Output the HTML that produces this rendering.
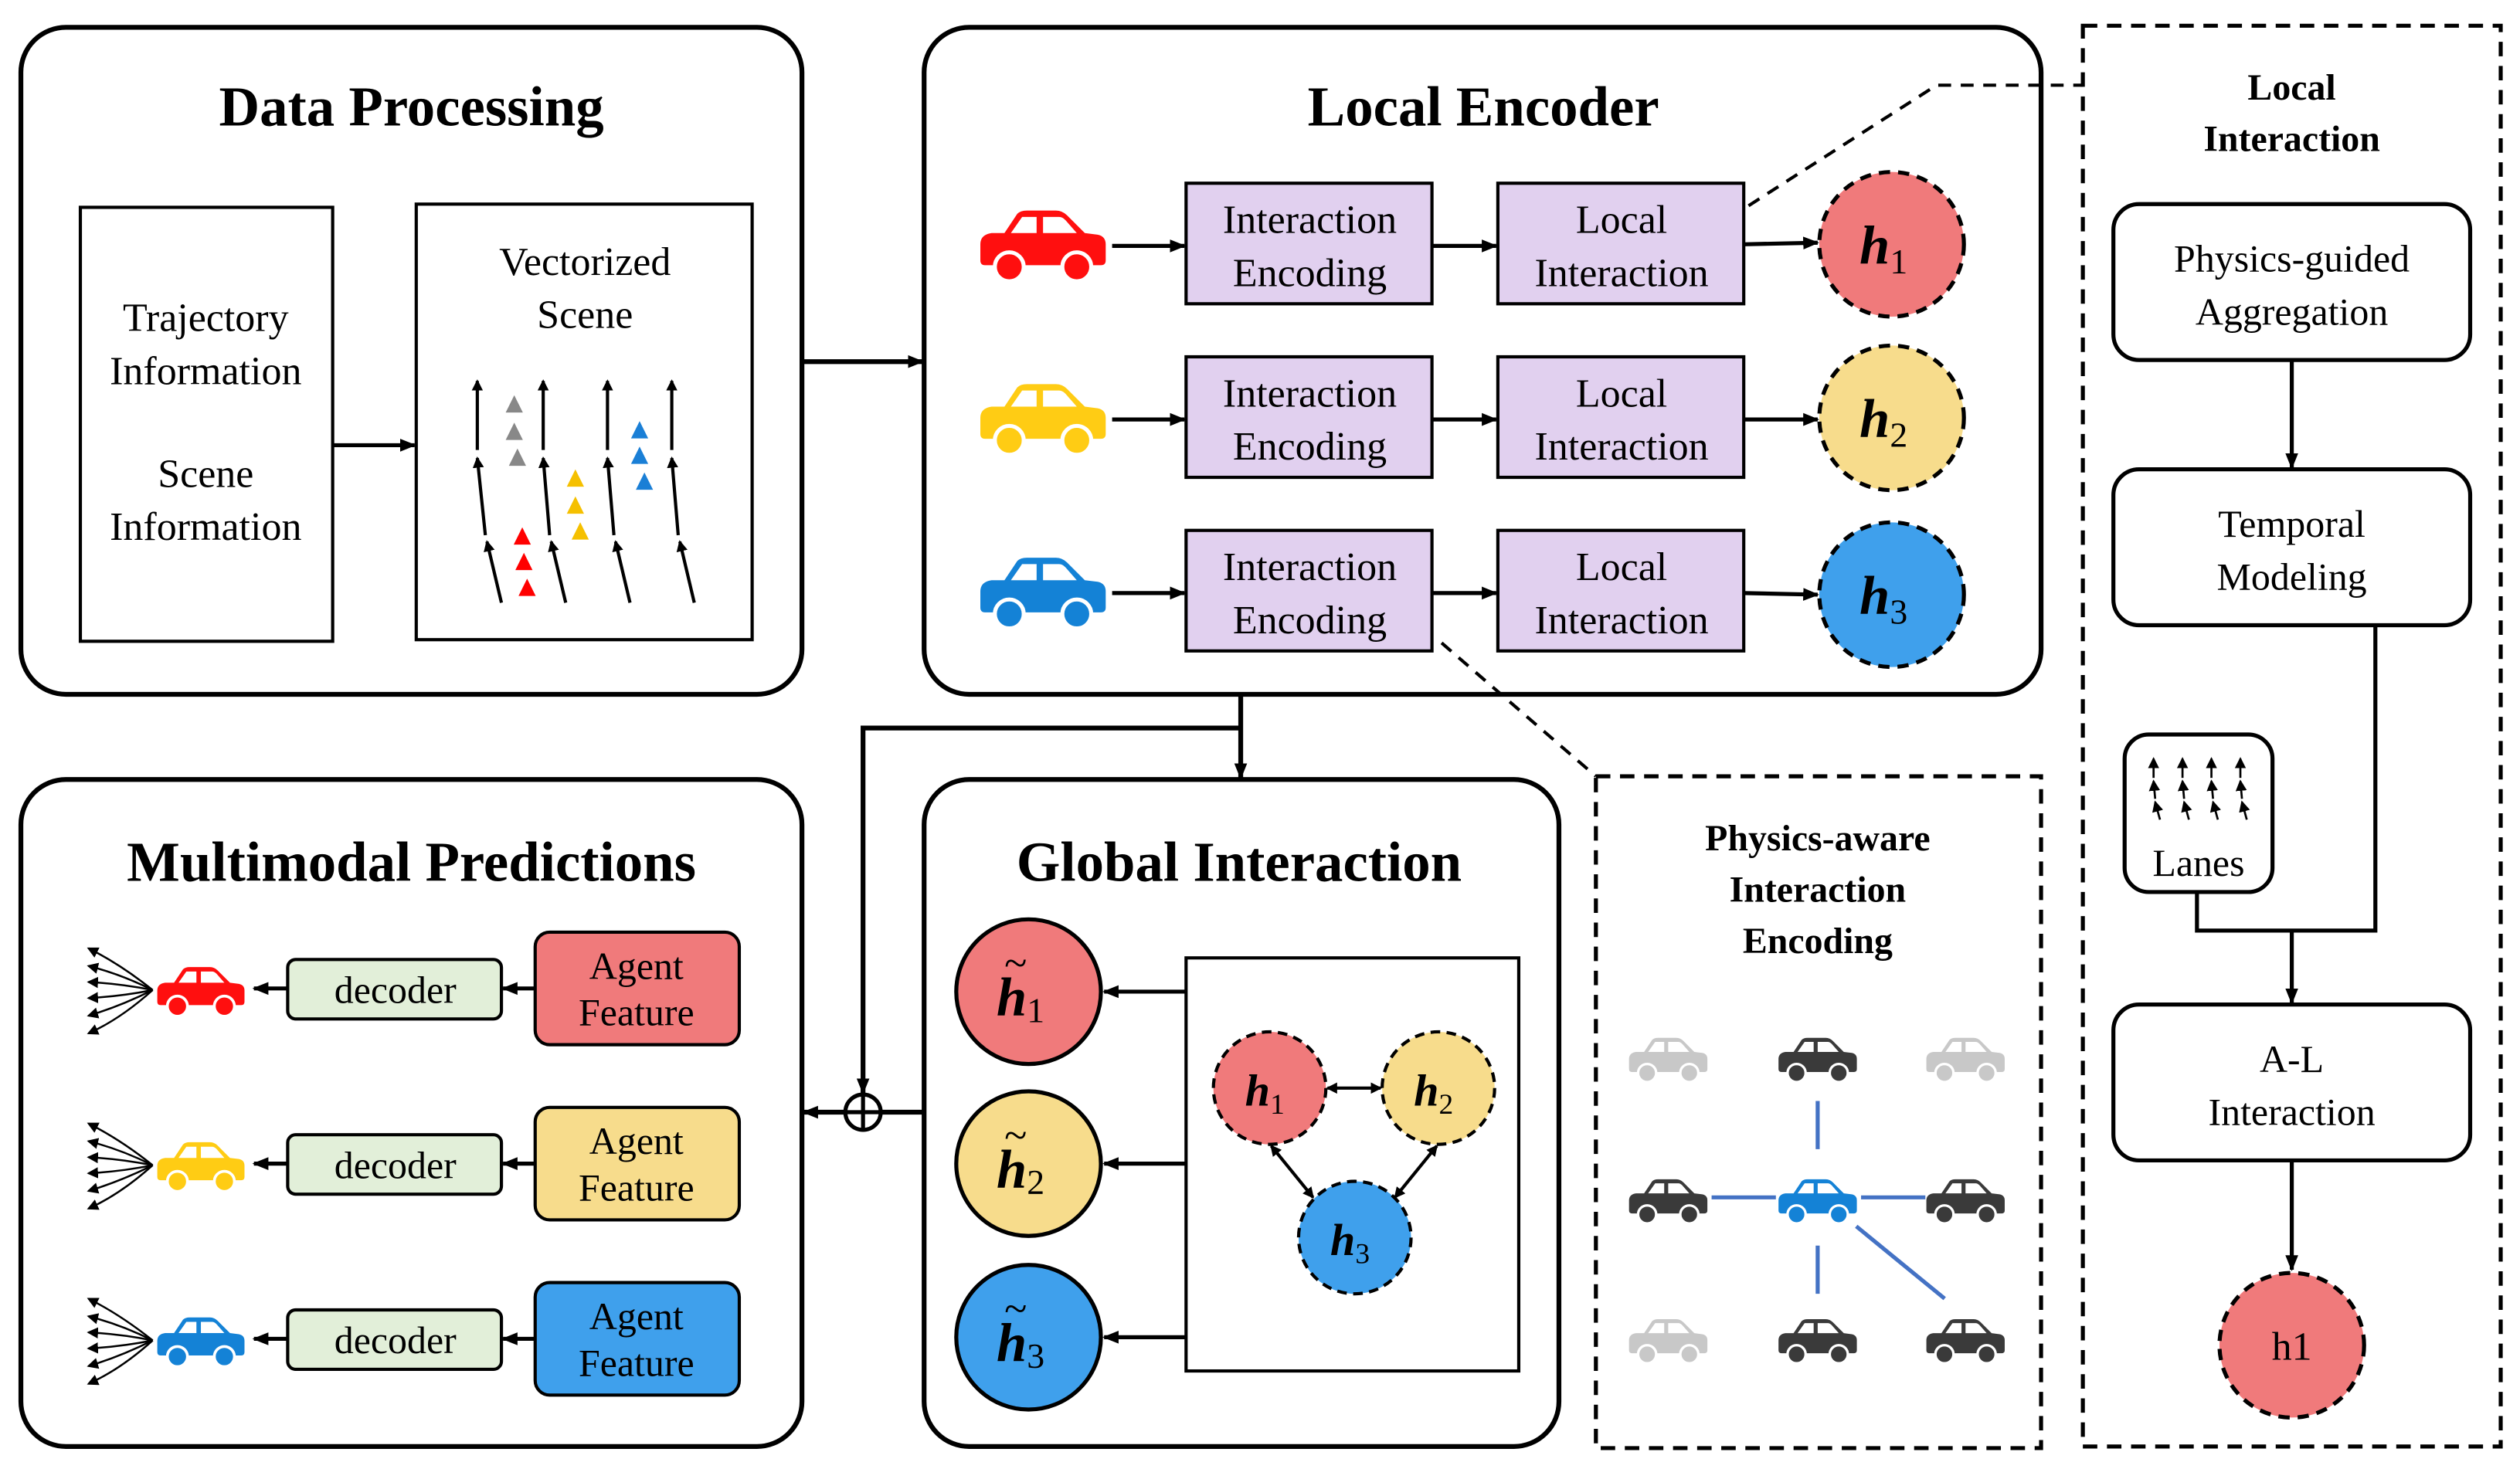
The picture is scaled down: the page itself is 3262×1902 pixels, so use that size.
<!DOCTYPE html>
<html><head><meta charset="utf-8"><style>
html,body{margin:0;padding:0;background:#fff;}
svg{display:block;font-family:"Liberation Serif","Times New Roman","DejaVu Serif",serif;}
svg text{font-family:"Liberation Serif","Times New Roman","DejaVu Serif",serif;}
svg text.g{font-family:"DejaVu Sans",sans-serif;}
</style></head><body>
<svg width="3262" height="1902" viewBox="0 0 1568 914" preserveAspectRatio="none" xmlns="http://www.w3.org/2000/svg" font-family="Liberation Serif, serif">
<defs>
<marker id="ah" markerWidth="10" markerHeight="10" refX="9" refY="5" orient="auto" markerUnits="userSpaceOnUse"><path d="M0,1 L10,5 L0,9 Z" fill="#000"/></marker>
<marker id="ahs" markerWidth="7" markerHeight="7" refX="6" refY="3.5" orient="auto-start-reverse" markerUnits="userSpaceOnUse"><path d="M0,0 L7,3.5 L0,7 Z" fill="#000"/></marker>
<symbol id="car" viewBox="0 0 80 46">
<path d="M1,22 Q1,16 8,15 L16,15 L24,3 Q26,1 30,1 L48,1 Q52,1 55,4 L66,15 L74,16 Q79,17 79,22 L79,32 Q79,35 76,35 L4,35 Q1,35 1,32 Z" fill="currentColor"/>
<path d="M20,15 L27,5 L36,5 L36,15 Z M40,5 L50,5 Q52,5 54,7 L61,15 L40,15 Z" fill="#fff"/>
<circle cx="19" cy="36" r="9" fill="currentColor" stroke="#fff" stroke-width="2.5"/>
<circle cx="61" cy="36" r="9" fill="currentColor" stroke="#fff" stroke-width="2.5"/>
</symbol>
</defs>

<!-- Data Processing -->
<rect x="13" y="17" width="486" height="415" rx="28" fill="none" stroke="#000" stroke-width="3"/>
<text x="256" y="78" font-size="35" font-weight="bold" text-anchor="middle">Data Processing</text>
<rect x="50" y="129" width="157" height="270" fill="none" stroke="#000" stroke-width="2"/>
<g font-size="25" text-anchor="middle">
<text x="128" y="206">Trajectory</text><text x="128" y="239">Information</text>
<text x="128" y="303">Scene</text><text x="128" y="336">Information</text>
</g>
<line x1="207" y1="277" x2="258" y2="277" stroke="#000" stroke-width="2.5" marker-end="url(#ah)"/>
<rect x="259" y="127" width="209" height="271" fill="none" stroke="#000" stroke-width="2"/>
<g font-size="25" text-anchor="middle"><text x="364" y="171">Vectorized</text><text x="364" y="204">Scene</text></g>
<g stroke="#000" stroke-width="2" fill="none" marker-end="url(#ahs)">
<line x1="312" y1="375" x2="303" y2="337"/><line x1="302" y1="333" x2="297" y2="285"/><line x1="297" y1="280" x2="297" y2="237"/>
<line x1="352" y1="375" x2="343" y2="337"/><line x1="342" y1="333" x2="338" y2="285"/><line x1="338" y1="280" x2="338" y2="237"/>
<line x1="392" y1="375" x2="383" y2="337"/><line x1="382" y1="333" x2="378" y2="285"/><line x1="378" y1="280" x2="378" y2="237"/>
<line x1="432" y1="375" x2="423" y2="337"/><line x1="422" y1="333" x2="418" y2="285"/><line x1="418" y1="280" x2="418" y2="237"/>
</g>
<g font-size="14" text-anchor="middle">
<text class="g" x="320" y="255" fill="#888">▲</text><text class="g" x="320" y="272" fill="#888">▲</text><text class="g" x="322" y="288" fill="#888">▲</text>
<text class="g" x="325" y="337" fill="#f00">▲</text><text class="g" x="326" y="353" fill="#f00">▲</text><text class="g" x="328" y="369" fill="#f00">▲</text>
<text class="g" x="358" y="301" fill="#f5c000">▲</text><text class="g" x="358" y="318" fill="#f5c000">▲</text><text class="g" x="361" y="334" fill="#f5c000">▲</text>
<text class="g" x="398" y="271" fill="#1a7fd6">▲</text><text class="g" x="398" y="287" fill="#1a7fd6">▲</text><text class="g" x="401" y="303" fill="#1a7fd6">▲</text>
</g>
<line x1="499" y1="225" x2="574" y2="225" stroke="#000" stroke-width="3" marker-end="url(#ah)"/>

<!-- Local Encoder -->
<rect x="575" y="17" width="695" height="415" rx="28" fill="none" stroke="#000" stroke-width="3"/>
<text x="923" y="78" font-size="35" font-weight="bold" text-anchor="middle">Local Encoder</text>
<use href="#car" x="609" y="130" width="80" height="46" style="color:#ff0f0f"/>
<use href="#car" x="609" y="238" width="80" height="46" style="color:#ffcc14"/>
<use href="#car" x="609" y="346" width="80" height="46" style="color:#1482d6"/>
<g stroke="#000" stroke-width="2.5" marker-end="url(#ah)">
<line x1="692" y1="153" x2="737" y2="153"/><line x1="692" y1="261" x2="737" y2="261"/><line x1="692" y1="369" x2="737" y2="369"/>
<line x1="891" y1="153" x2="931" y2="153"/><line x1="891" y1="261" x2="931" y2="261"/><line x1="891" y1="369" x2="931" y2="369"/>
<line x1="1085" y1="152" x2="1131" y2="151"/><line x1="1085" y1="261" x2="1131" y2="261"/><line x1="1085" y1="369" x2="1131" y2="370"/>
</g>
<g fill="#e1d0ef" stroke="#000" stroke-width="2">
<rect x="738" y="114" width="153" height="75"/><rect x="738" y="222" width="153" height="75"/><rect x="738" y="330" width="153" height="75"/>
<rect x="932" y="114" width="153" height="75"/><rect x="932" y="222" width="153" height="75"/><rect x="932" y="330" width="153" height="75"/>
</g>
<g font-size="25" text-anchor="middle">
<text x="815" y="145">Interaction</text><text x="815" y="178">Encoding</text>
<text x="815" y="253">Interaction</text><text x="815" y="286">Encoding</text>
<text x="815" y="361">Interaction</text><text x="815" y="394">Encoding</text>
<text x="1009" y="145">Local</text><text x="1009" y="178">Interaction</text>
<text x="1009" y="253">Local</text><text x="1009" y="286">Interaction</text>
<text x="1009" y="361">Local</text><text x="1009" y="394">Interaction</text>
</g>
<g stroke="#000" stroke-width="2.5" stroke-dasharray="7,5">
<circle cx="1177" cy="152" r="45" fill="#f07a7b"/>
<circle cx="1177" cy="260" r="45" fill="#f7dc8c"/>
<circle cx="1177" cy="370" r="45" fill="#3fa0ec"/>
</g>
<g font-size="34" font-weight="bold" font-style="italic" text-anchor="middle">
<text x="1172" y="164">h<tspan font-size="22" font-weight="normal" font-style="normal" dy="6">1</tspan></text>
<text x="1172" y="272">h<tspan font-size="22" font-weight="normal" font-style="normal" dy="6">2</tspan></text>
<text x="1172" y="382">h<tspan font-size="22" font-weight="normal" font-style="normal" dy="6">3</tspan></text>
</g>
<polyline points="1088,128 1205,53 1296,53" fill="none" stroke="#000" stroke-width="2" stroke-dasharray="8,6"/>
<line x1="897" y1="400" x2="993" y2="483" stroke="#000" stroke-width="2" stroke-dasharray="8,6"/>

<!-- Local Interaction panel -->
<rect x="1296" y="16" width="260" height="884" fill="none" stroke="#000" stroke-width="2.5" stroke-dasharray="9,6"/>
<g font-size="23" font-weight="bold" text-anchor="middle"><text x="1426" y="62">Local</text><text x="1426" y="94">Interaction</text></g>
<g fill="#fff" stroke="#000" stroke-width="2.5">
<rect x="1315" y="127" width="222" height="97" rx="16"/>
<rect x="1315" y="292" width="222" height="97" rx="16"/>
<rect x="1315" y="625" width="222" height="97" rx="16"/>
<rect x="1322" y="457" width="92" height="98" rx="15"/>
</g>
<g font-size="24" text-anchor="middle">
<text x="1426" y="169">Physics-guided</text><text x="1426" y="202">Aggregation</text>
<text x="1426" y="334">Temporal</text><text x="1426" y="367">Modeling</text>
<text x="1426" y="667">A-L</text><text x="1426" y="700">Interaction</text>
<text x="1368" y="545">Lanes</text>
</g>
<g stroke="#000" stroke-width="1.3" fill="none" marker-end="url(#ahs)">
<line x1="1340" y1="484" x2="1340" y2="472"/><line x1="1358" y1="484" x2="1358" y2="472"/><line x1="1376" y1="484" x2="1376" y2="472"/><line x1="1394" y1="484" x2="1394" y2="472"/>
<line x1="1341" y1="497" x2="1340" y2="486"/><line x1="1359" y1="497" x2="1358" y2="486"/><line x1="1377" y1="497" x2="1376" y2="486"/><line x1="1395" y1="497" x2="1394" y2="486"/>
<line x1="1344" y1="510" x2="1341" y2="499"/><line x1="1362" y1="510" x2="1359" y2="499"/><line x1="1380" y1="510" x2="1377" y2="499"/><line x1="1398" y1="510" x2="1395" y2="499"/>
</g>
<g stroke="#000" stroke-width="2.5" fill="none">
<line x1="1426" y1="224" x2="1426" y2="291" marker-end="url(#ah)"/>
<polyline points="1478,389 1478,579 1367,579 1367,555"/>
<line x1="1426" y1="579" x2="1426" y2="624" marker-end="url(#ah)"/>
<line x1="1426" y1="722" x2="1426" y2="790" marker-end="url(#ah)"/>
</g>
<circle cx="1426" cy="837" r="45" fill="#f07a7b" stroke="#000" stroke-width="2.5" stroke-dasharray="7,5"/>
<text x="1426" y="846" font-size="25" text-anchor="middle">h1</text>

<!-- Physics-aware panel -->
<rect x="993" y="483" width="277" height="418" fill="none" stroke="#000" stroke-width="2.5" stroke-dasharray="9,6"/>
<g font-size="23" font-weight="bold" text-anchor="middle"><text x="1131" y="529">Physics-aware</text><text x="1131" y="561">Interaction</text><text x="1131" y="593">Encoding</text></g>
<g stroke="#4472c4" stroke-width="2.5">
<line x1="1131" y1="685" x2="1131" y2="715"/><line x1="1131" y1="775" x2="1131" y2="805"/>
<line x1="1065" y1="745" x2="1105" y2="745"/><line x1="1158" y1="745" x2="1198" y2="745"/>
<line x1="1155" y1="763" x2="1210" y2="808"/>
</g>
<use href="#car" x="1013" y="645" width="50" height="29" style="color:#c8c8c8"/>
<use href="#car" x="1106" y="645" width="50" height="29" style="color:#3a3a3a"/>
<use href="#car" x="1198" y="645" width="50" height="29" style="color:#c8c8c8"/>
<use href="#car" x="1013" y="733" width="50" height="29" style="color:#3a3a3a"/>
<use href="#car" x="1106" y="733" width="50" height="29" style="color:#1482d6"/>
<use href="#car" x="1198" y="733" width="50" height="29" style="color:#3a3a3a"/>
<use href="#car" x="1013" y="820" width="50" height="29" style="color:#c8c8c8"/>
<use href="#car" x="1106" y="820" width="50" height="29" style="color:#3a3a3a"/>
<use href="#car" x="1198" y="820" width="50" height="29" style="color:#3a3a3a"/>

<!-- connectors -->
<g stroke="#000" stroke-width="3" fill="none">
<line x1="772" y1="432" x2="772" y2="484" marker-end="url(#ah)"/>
<polyline points="772,453 537,453 537,680" marker-end="url(#ah)"/>
<line x1="575" y1="692" x2="500" y2="692" marker-end="url(#ah)"/>
</g>
<circle cx="537" cy="692" r="11" fill="#fff" stroke="#000" stroke-width="2.5"/>
<line x1="526" y1="692" x2="548" y2="692" stroke="#000" stroke-width="2.5"/>
<line x1="537" y1="681" x2="537" y2="703" stroke="#000" stroke-width="2.5"/>

<!-- Multimodal -->
<rect x="13" y="485" width="486" height="415" rx="28" fill="none" stroke="#000" stroke-width="3"/>
<text x="256" y="548" font-size="35" font-weight="bold" text-anchor="middle">Multimodal Predictions</text>
<g stroke="#000" stroke-width="2">
<rect x="333" y="580" width="127" height="70" rx="9" fill="#f07a7b"/>
<rect x="333" y="689" width="127" height="70" rx="9" fill="#f7dc8c"/>
<rect x="333" y="798" width="127" height="70" rx="9" fill="#3fa0ec"/>
<rect x="179" y="597" width="133" height="37" rx="5" fill="#e2efd9"/>
<rect x="179" y="706" width="133" height="37" rx="5" fill="#e2efd9"/>
<rect x="179" y="815" width="133" height="37" rx="5" fill="#e2efd9"/>
</g>
<g font-size="24" text-anchor="middle">
<text x="396" y="609">Agent</text><text x="396" y="638">Feature</text>
<text x="396" y="718">Agent</text><text x="396" y="747">Feature</text>
<text x="396" y="827">Agent</text><text x="396" y="856">Feature</text>
<text x="246" y="624">decoder</text><text x="246" y="733">decoder</text><text x="246" y="842">decoder</text>
</g>
<g stroke="#000" stroke-width="2.5" marker-end="url(#ah)">
<line x1="333" y1="615" x2="313" y2="615"/><line x1="333" y1="724" x2="313" y2="724"/><line x1="333" y1="833" x2="313" y2="833"/>
<line x1="179" y1="615" x2="158" y2="615"/><line x1="179" y1="724" x2="158" y2="724"/><line x1="179" y1="833" x2="158" y2="833"/>
</g>
<use href="#car" x="94" y="601" width="62" height="32" style="color:#ff0f0f"/>
<use href="#car" x="94" y="710" width="62" height="32" style="color:#ffcc14"/>
<use href="#car" x="94" y="819" width="62" height="32" style="color:#1482d6"/>
<g stroke="#000" stroke-width="1.2" fill="none" marker-end="url(#ahs)">
<path d="M95,616 Q75,600 55,590"/><path d="M95,616 Q75,606 55,601"/><path d="M95,616 Q75,612 55,611"/><path d="M95,616 Q75,620 55,621"/><path d="M95,616 Q75,626 55,632"/><path d="M95,616 Q75,634 55,643"/>
<path d="M95,725 Q75,709 55,699"/><path d="M95,725 Q75,715 55,710"/><path d="M95,725 Q75,721 55,720"/><path d="M95,725 Q75,729 55,730"/><path d="M95,725 Q75,735 55,741"/><path d="M95,725 Q75,743 55,752"/>
<path d="M95,834 Q75,818 55,808"/><path d="M95,834 Q75,824 55,819"/><path d="M95,834 Q75,830 55,829"/><path d="M95,834 Q75,838 55,839"/><path d="M95,834 Q75,844 55,850"/><path d="M95,834 Q75,852 55,861"/>
</g>

<!-- Global Interaction -->
<rect x="575" y="485" width="395" height="415" rx="28" fill="none" stroke="#000" stroke-width="3"/>
<text x="771" y="548" font-size="35" font-weight="bold" text-anchor="middle">Global Interaction</text>
<g stroke="#000" stroke-width="2.5">
<circle cx="640" cy="617" r="45" fill="#f07a7b"/>
<circle cx="640" cy="724" r="45" fill="#f7dc8c"/>
<circle cx="640" cy="832" r="45" fill="#3fa0ec"/>
</g>
<g font-size="34" font-weight="bold" font-style="italic" text-anchor="middle">
<text x="635" y="632">h<tspan font-size="22" font-weight="normal" font-style="normal" dy="4">1</tspan></text>
<text x="635" y="739">h<tspan font-size="22" font-weight="normal" font-style="normal" dy="4">2</tspan></text>
<text x="635" y="847">h<tspan font-size="22" font-weight="normal" font-style="normal" dy="4">3</tspan></text>
</g>
<g font-size="26" text-anchor="middle"><text x="632" y="608">~</text><text x="632" y="715">~</text><text x="632" y="823">~</text></g>
<rect x="738" y="596" width="207" height="257" fill="none" stroke="#000" stroke-width="2"/>
<g stroke="#000" stroke-width="2.5" marker-end="url(#ah)">
<line x1="738" y1="617" x2="687" y2="617"/><line x1="738" y1="724" x2="687" y2="724"/><line x1="738" y1="832" x2="687" y2="832"/>
</g>
<g stroke="#000" stroke-width="2" stroke-dasharray="6,4">
<circle cx="790" cy="677" r="35" fill="#f07a7b"/>
<circle cx="895" cy="677" r="35" fill="#f7dc8c"/>
<circle cx="843" cy="770" r="35" fill="#3fa0ec"/>
</g>
<g stroke="#000" stroke-width="2" marker-start="url(#ahs)" marker-end="url(#ahs)">
<line x1="826" y1="677" x2="859" y2="677"/>
<line x1="791" y1="713" x2="817" y2="745"/>
<line x1="894" y1="713" x2="868" y2="745"/>
</g>
<g font-size="28" font-weight="bold" font-style="italic" text-anchor="middle">
<text x="787" y="688">h<tspan font-size="18" font-weight="normal" font-style="normal" dy="5">1</tspan></text>
<text x="892" y="688">h<tspan font-size="18" font-weight="normal" font-style="normal" dy="5">2</tspan></text>
<text x="840" y="781">h<tspan font-size="18" font-weight="normal" font-style="normal" dy="5">3</tspan></text>
</g>
</svg>
</body></html>
